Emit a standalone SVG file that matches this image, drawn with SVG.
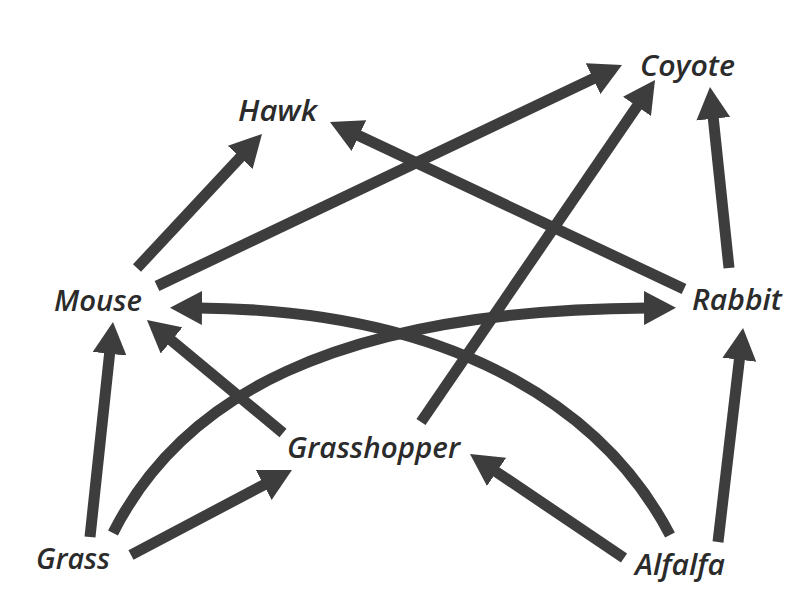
<svg xmlns="http://www.w3.org/2000/svg" width="799" height="592" viewBox="0 0 799 592">
<style>
.lbl{font-family:"Open Sans","Noto Sans","DejaVu Sans",sans-serif;font-style:italic;font-weight:600;font-size:29px;fill:#2b2b2b}
.arr{fill:none;stroke:#3d3d3d;stroke-width:11;stroke-linecap:butt;marker-end:url(#head)}
</style>
<defs>
<marker id="head" markerUnits="userSpaceOnUse" markerWidth="32" markerHeight="34" viewBox="0 0 32 34" refX="4" refY="17" orient="auto">
<path d="M0,0 L32,17 L0,34 Z" fill="#3d3d3d"/>
</marker>
</defs>
<rect width="799" height="592" fill="#ffffff"/>
<g id="connectors">
<path id="mouse-hawk" class="arr" d="M137,268 L242.9,154.5"/>
<path id="mouse-coyote" class="arr" d="M157,286 L596.7,77"/>
<path id="rabbit-hawk" class="arr" d="M684,289 L355.3,134"/>
<path id="rabbit-coyote" class="arr" d="M729,268 L712.9,114.8"/>
<path id="grasshopper-coyote" class="arr" d="M421,422 L639.2,103.1"/>
<path id="grasshopper-mouse" class="arr" d="M283,433 L168.5,337.9"/>
<path id="alfalfa-mouse" class="arr" d="M670,535 C610,420 470,310 198,308"/>
<path id="grass-rabbit" class="arr" d="M113,533 C180,400 330,310 648,308"/>
<path id="grass-mouse" class="arr" d="M90,537 L110,349.8"/>
<path id="grass-grasshopper" class="arr" d="M131,555 L267.2,483.1"/>
<path id="alfalfa-grasshopper" class="arr" d="M624,558 L493.2,469.7"/>
<path id="alfalfa-rabbit" class="arr" d="M718,542 L739.8,355.8"/>
</g>
<g id="coyote"><text class="lbl" x="640" y="76" textLength="95" lengthAdjust="spacingAndGlyphs">Coyote</text></g>
<g id="hawk"><text class="lbl" x="238" y="121" textLength="79" lengthAdjust="spacingAndGlyphs">Hawk</text></g>
<g id="mouse"><text class="lbl" x="54" y="311" textLength="88" lengthAdjust="spacingAndGlyphs">Mouse</text></g>
<g id="rabbit"><text class="lbl" x="692" y="310" textLength="90" lengthAdjust="spacingAndGlyphs">Rabbit</text></g>
<g id="grasshopper"><text class="lbl" x="287" y="458" textLength="173" lengthAdjust="spacingAndGlyphs">Grasshopper</text></g>
<g id="grass"><text class="lbl" x="36" y="569" textLength="74" lengthAdjust="spacingAndGlyphs">Grass</text></g>
<g id="alfalfa"><text class="lbl" x="635" y="575" textLength="90" lengthAdjust="spacingAndGlyphs">Alfalfa</text></g>
</svg>
